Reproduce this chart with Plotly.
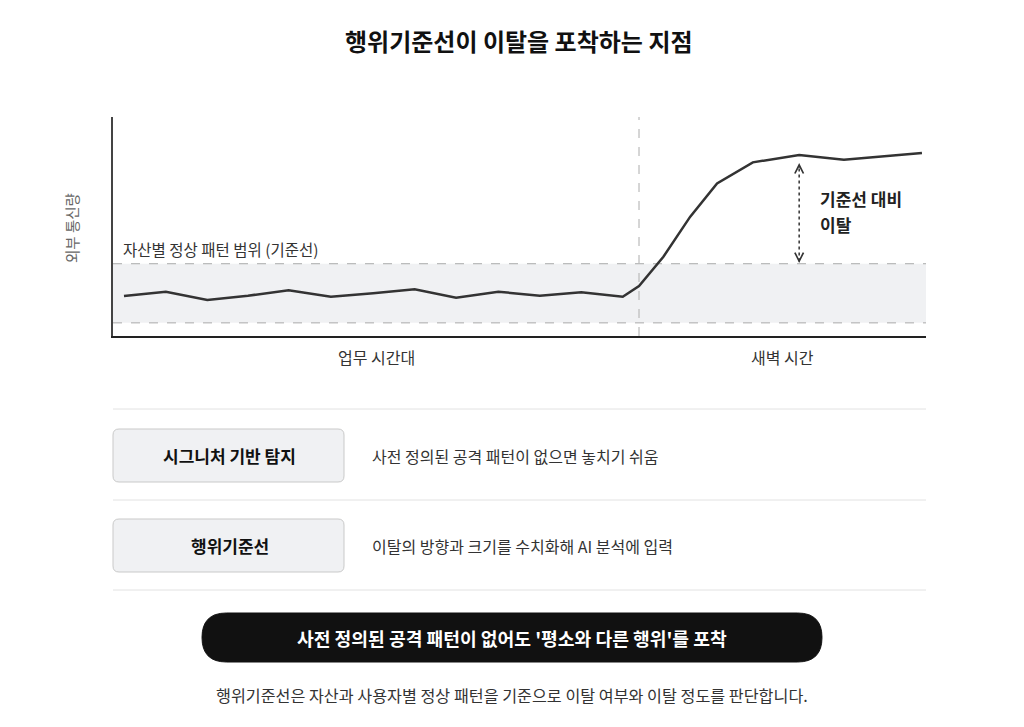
import plotly.graph_objects as go

# ---- data ----
# x: position along the time axis (0-100), y: outbound traffic (0-100)
time_pos = [1.35, 6.5, 11.6, 16.6, 21.6, 26.8, 32.0, 37.1, 42.2, 47.4, 52.5,
            57.6, 62.7, 64.7, 67.7, 71.0, 74.3, 78.7, 84.4, 89.9, 99.5]
traffic = [18.3, 20.2, 16.4, 18.4, 20.9, 17.9, 19.5, 21.3, 17.5, 20.2, 18.4,
           20.0, 17.9, 22.8, 36.2, 54.5, 69.7, 79.3, 82.6, 80.5, 83.6]

baseline_low = 6
baseline_high = 33
period_split = 64.7
period_labels = ["업무 시간대", "새벽 시간"]
deviation_idx = 18  # point where the deviation arrow is drawn

title = "행위기준선이 이탈을 포착하는 지점"
y_label = "외부 통신량"
band_label = "자산별 정상 패턴 범위 (기준선)"
deviation_label = ["기준선 대비", "이탈"]

methods = ["시그니처 기반 탐지", "행위기준선"]
method_desc = ["사전 정의된 공격 패턴이 없으면 놓치기 쉬움",
               "이탈의 방향과 크기를 수치화해 AI 분석에 입력"]
banner = "사전 정의된 공격 패턴이 없어도 '평소와 다른 행위'를 포착"
footer = "행위기준선은 자산과 사용자별 정상 패턴을 기준으로 이탈 여부와 이탈 정도를 판단합니다."

# ---- layout helpers ----
# the page body has an 8px margin, so positions are measured from the window
# and shifted back by that amount
OFF = 8
W, H = 1008, 711
FONT = "Noto Sans CJK KR"


def px_x(v):
    return (v - OFF) / W


def px_y(v):
    return 1 - (v - OFF) / H


def rounded_rect(x0, y0, x1, y1, r):
    # rounded rectangle path in paper coords, built from pixel values
    rx, ry = r / W, r / H
    a, b = px_x(x0), px_x(x1)
    top, bot = px_y(y0), px_y(y1)
    return (f"M{a + rx},{top} L{b - rx},{top} Q{b},{top} {b},{top - ry} "
            f"L{b},{bot + ry} Q{b},{bot} {b - rx},{bot} "
            f"L{a + rx},{bot} Q{a},{bot} {a},{bot + ry} "
            f"L{a},{top - ry} Q{a},{top} {a + rx},{top} Z")


def label(text, x, y, size, color, bold=False, xanchor="center", xref="paper", **kw):
    return dict(text=text, xref=xref, yref="paper", x=x, y=y,
                xanchor=xanchor, yanchor="middle", showarrow=False,
                font=dict(family=FONT, size=size, color=color,
                          weight=700 if bold else 400), **kw)


fig = go.Figure()

# traffic line
fig.add_trace(go.Scatter(
    x=time_pos, y=traffic, mode="lines",
    line=dict(color="#333333", width=2.5),
    hoverinfo="skip", showlegend=False,
))

# deviation arrow (dotted shaft)
ax_x = time_pos[deviation_idx]
arrow_top = traffic[deviation_idx] - 3.6
fig.add_trace(go.Scatter(
    x=[ax_x, ax_x], y=[baseline_high + 1, arrow_top - 1], mode="lines",
    line=dict(color="#333333", width=1.5, dash="dot"),
    hoverinfo="skip", showlegend=False,
))

shapes = []
# baseline band
shapes.append(dict(type="rect", xref="x", yref="y", x0=0, x1=100,
                   y0=baseline_low, y1=baseline_high,
                   fillcolor="#f0f1f3", line_width=0, layer="below"))
for yv in (baseline_low, baseline_high):
    shapes.append(dict(type="line", xref="x", yref="y", x0=0, x1=100, y0=yv, y1=yv,
                       line=dict(color="#aaaaaa", width=1, dash="dash"), layer="below"))
# period split
shapes.append(dict(type="line", xref="x", yref="y", x0=period_split, x1=period_split,
                   y0=0, y1=100, line=dict(color="#bbbbbb", width=1.2, dash="dash"),
                   layer="below"))

# separators of the lower section
for yp in (409, 500, 590):
    shapes.append(dict(type="line", xref="paper", yref="paper",
                       x0=px_x(113), x1=px_x(926), y0=px_y(yp), y1=px_y(yp),
                       line=dict(color="#e2e2e2", width=1)))

# method boxes
box_rows = [(429, 482), (519, 572)]
for (y0, y1) in box_rows:
    shapes.append(dict(type="path", xref="paper", yref="paper",
                       path=rounded_rect(113, y0, 344, y1, 6),
                       fillcolor="#f0f1f3", line=dict(color="#c9c9c9", width=1)))

# banner pill
shapes.append(dict(type="path", xref="paper", yref="paper",
                   path=rounded_rect(202, 613, 822, 662, 24.5),
                   fillcolor="#111111", line=dict(color="#111111", width=1)))

annotations = []
annotations.append(label(title, px_x(519), px_y(40), 24, "#111111", bold=True))
annotations.append(label(y_label, px_x(71), px_y(228), 14.5, "#666666", textangle=-90))
annotations.append(label(band_label, 1.0, px_y(249), 15.5, "#333333",
                         xanchor="left", xref="x"))
# period labels
mids = [period_split / 2, (period_split + 100) / 2]
for lab, m in zip(period_labels, mids):
    annotations.append(label(lab, m, px_y(357), 16, "#333333", xref="x"))
# arrow heads
for tip, ay in ((arrow_top, 6), (baseline_high + 0.3, -6)):
    annotations.append(dict(text="", xref="x", yref="y", x=ax_x, y=tip, ax=0, ay=ay,
                            showarrow=True, arrowhead=5, arrowsize=1.3, arrowwidth=1.3,
                            arrowcolor="#333333", standoff=0))
# deviation label
for i, lab in enumerate(deviation_label):
    annotations.append(label(lab, px_x(818), px_y(199 + 25 * i), 17, "#222222",
                             bold=True, xanchor="left"))

# method rows
for (y0, y1), name, desc in zip(box_rows, methods, method_desc):
    yc = px_y((y0 + y1) / 2)
    annotations.append(label(name, px_x(229.5), yc, 17, "#111111", bold=True))
    annotations.append(label(desc, px_x(370), yc, 16, "#333333", xanchor="left"))

annotations.append(label(banner, px_x(512), px_y(637.5), 18.2, "#ffffff", bold=True))
annotations.append(label(footer, px_x(512), px_y(695), 16.2, "#333333"))

fig.update_layout(
    width=W, height=H,
    margin=dict(l=0, r=0, t=0, b=0),
    paper_bgcolor="white", plot_bgcolor="white",
    font=dict(family=FONT),
    xaxis=dict(domain=[px_x(113), px_x(926)], range=[0, 100], showgrid=False,
               zeroline=False, showticklabels=False, ticks="",
               showline=True, linecolor="#222222", linewidth=2, fixedrange=True),
    yaxis=dict(domain=[px_y(336), px_y(117)], range=[0, 100], showgrid=False,
               zeroline=False, showticklabels=False, ticks="",
               showline=True, linecolor="#444444", linewidth=1.5, fixedrange=True),
    shapes=shapes,
    annotations=annotations,
    showlegend=False,
)

fig.write_html("out.html")
